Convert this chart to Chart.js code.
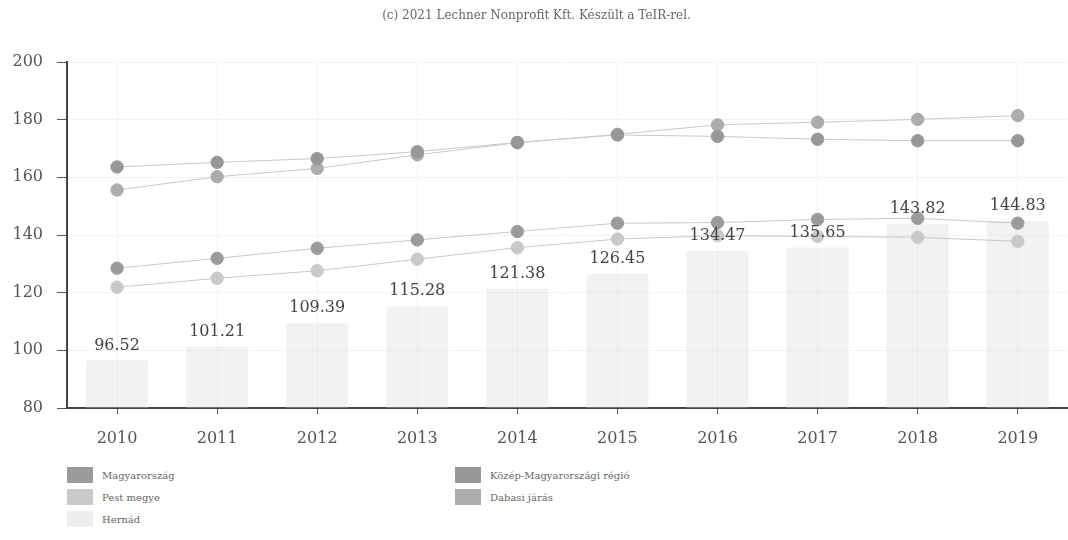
<!DOCTYPE html>
<html>
<head>
<meta charset="utf-8">
<script src="https://cdn.jsdelivr.net/npm/chart.js@4"></script>
<style>
  body { margin: 0; background: #fff; overflow: hidden; width: 1068px; height: 540px; }
  #wrap { position: absolute; left: 0; top: 0; width: 1075px; height: 455px; }
  #legend { position: absolute; left: 67px; top: 467px; display: grid;
            grid-template-columns: 388px 300px; row-gap: 6px;
            font-family: "DejaVu Serif", serif; font-size: 10px; color: #666; }
  .item { display: flex; align-items: center; height: 16px; }
  .box { width: 26px; height: 16px; margin-right: 9px; }
</style>
</head>
<body>
<div id="wrap"><canvas id="chart" width="1075" height="455"></canvas></div>
<div id="legend"></div>
<script>
  const years = ["2010", "2011", "2012", "2013", "2014", "2015", "2016", "2017", "2018", "2019"];
  const magyarorszag = [128.5, 131.9, 135.4, 138.3, 141.2, 144.1, 144.3, 145.4, 145.8, 144.1];
  const kozepMagyar = [163.6, 165.2, 166.5, 168.9, 172.1, 174.7, 174.2, 173.2, 172.7, 172.7];
  const pestMegye = [121.9, 125.0, 127.6, 131.6, 135.6, 138.6, 139.8, 139.5, 139.2, 137.8];
  const dabasi = [155.6, 160.2, 163.1, 167.8, 172.0, 174.9, 178.2, 179.1, 180.1, 181.4];
  const hernad = [96.52, 101.21, 109.39, 115.28, 121.38, 126.45, 134.47, 135.65, 143.82, 144.83];
  const yTicks = [80, 100, 120, 140, 160, 180, 200];

  const serif = "DejaVu Serif";

  function lineSet(label, data, color) {
    return {
      type: "line",
      label: label,
      data: data,
      borderColor: "#c8c8c8",
      backgroundColor: color,
      pointBackgroundColor: color,
      pointBorderColor: color,
      pointRadius: 6.2,
      borderWidth: 1,
      fill: false,
      order: 1,
    };
  }

  // bar value labels
  const barLabels = {
    id: "barLabels",
    afterDatasetsDraw(chart) {
      const ctx = chart.ctx;
      const meta = chart.getDatasetMeta(4);
      ctx.save();
      ctx.font = "16px " + serif;
      ctx.fillStyle = "#444";
      ctx.textAlign = "center";
      ctx.textBaseline = "bottom";
      meta.data.forEach((bar, i) => {
        ctx.fillText(hernad[i].toFixed(2), bar.x, bar.y - 7);
      });
      ctx.restore();
    },
  };

  const chart = new Chart(document.getElementById("chart"), {
    type: "bar",
    data: {
      labels: years,
      datasets: [
        lineSet("Magyarország", magyarorszag, "#9b9b9b"),
        lineSet("Közép-Magyarországi régió", kozepMagyar, "#979797"),
        lineSet("Pest megye", pestMegye, "#c9c9c9"),
        lineSet("Dabasi járás", dabasi, "#acacac"),
        {
          type: "bar",
          label: "Hernád",
          data: hernad,
          backgroundColor: "rgba(215,215,215,0.32)",
          barPercentage: 0.62,
          categoryPercentage: 1,
          order: 10,
        },
      ],
    },
    options: {
      responsive: false,
      animation: false,
      layout: { padding: { left: 0, right: 2, bottom: 0 } },
      scales: {
        x: {
          grid: { color: "#f4f4f4", offset: false, tickLength: 6, tickColor: "#555" },
          border: { color: "#444", width: 2 },
          ticks: { color: "#555", font: { family: serif, size: 16 }, padding: 15 },
          afterFit: (s) => { s.height = 47; },
        },
        y: {
          min: 80,
          max: 200,
          afterBuildTicks: (s) => { s.ticks = yTicks.map((v) => ({ value: v })); },
          grid: { color: "#f4f4f4", tickLength: 10, tickColor: "#555" },
          border: { color: "#444", width: 2 },
          ticks: { color: "#555", font: { family: serif, size: 16 }, padding: 14 },
          afterFit: (s) => { s.width = 67; },
        },
      },
      plugins: {
        legend: { display: false },
        tooltip: { enabled: false },
        title: {
          display: true,
          text: "(c) 2021 Lechner Nonprofit Kft. Készült a TeIR-rel.",
          color: "#666",
          font: { family: serif, size: 12, weight: "normal" },
          padding: { top: 9, bottom: 38.6 },
        },
      },
    },
    plugins: [barLabels],
  });

  // legend, two columns
  const legendOrder = [0, 1, 2, 3, 4];
  const legend = document.getElementById("legend");
  legendOrder.forEach((i) => {
    const ds = chart.data.datasets[i];
    const item = document.createElement("div");
    item.className = "item";
    const box = document.createElement("span");
    box.className = "box";
    box.style.background = i === 4 ? "#eeeeee" : ds.backgroundColor;
    item.appendChild(box);
    item.appendChild(document.createTextNode(ds.label));
    legend.appendChild(item);
  });
</script>
</body>
</html>
